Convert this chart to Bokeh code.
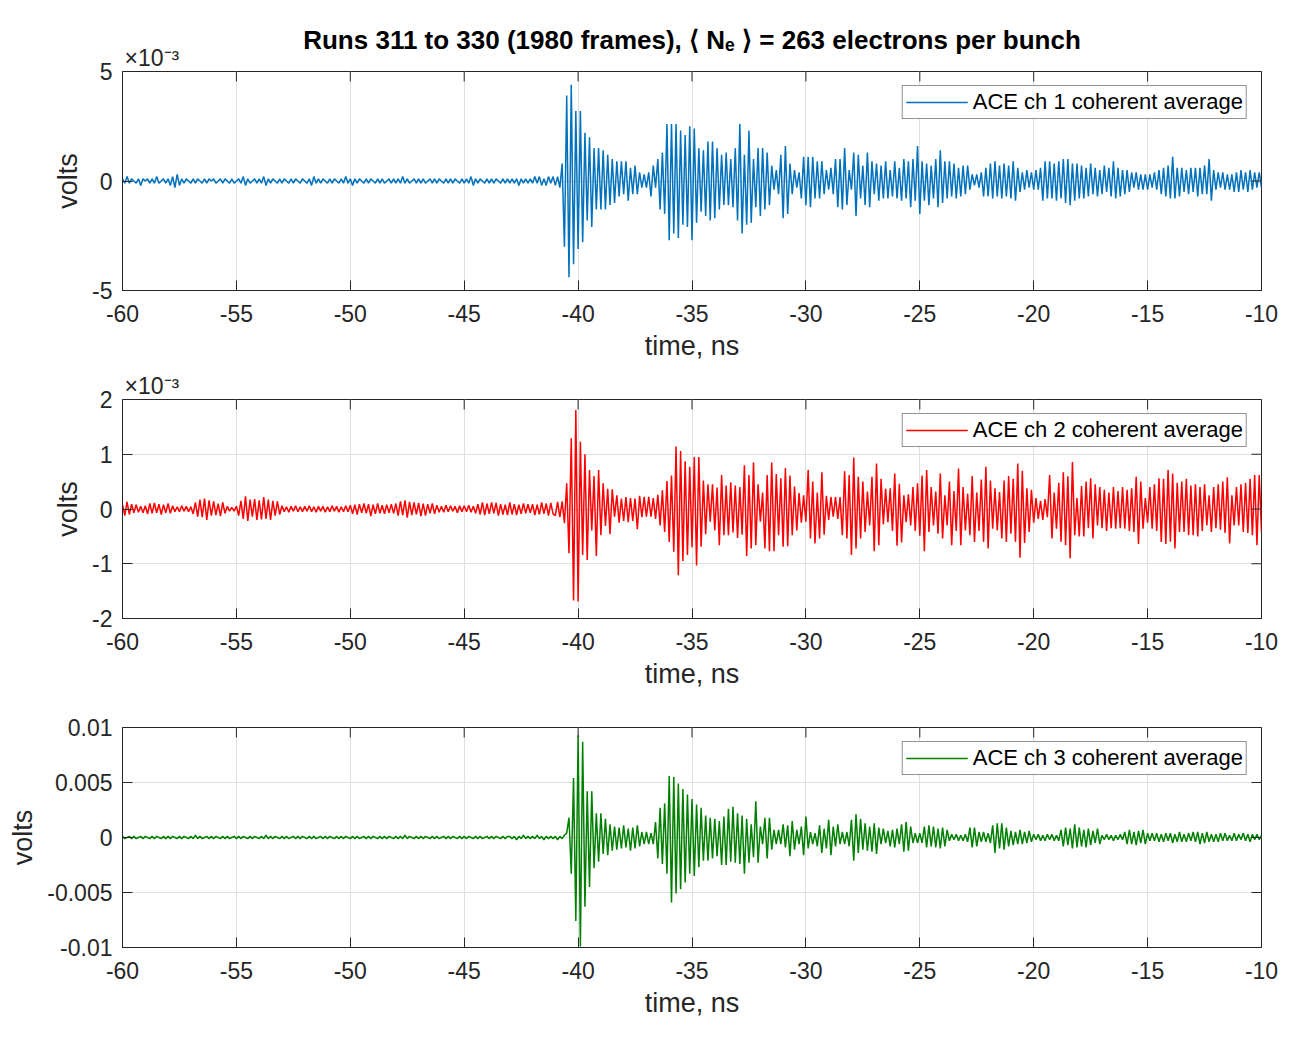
import numpy as np
from bokeh.plotting import figure
from bokeh.models import Range1d, FixedTicker, Title
from bokeh.layouts import column
from bokeh.embed import file_html
from bokeh.resources import INLINE

# ---------------- data ----------------
t_start = -60.0      # ns, first sample
t_step = 0.1         # ns, sample spacing

x_ticks = [-60, -55, -50, -45, -40, -35, -30, -25, -20, -15, -10]
x_tick_labels = ["-60", "-55", "-50", "-45", "-40", "-35", "-30", "-25", "-20", "-15", "-10"]

y1_ticks = [-5, 0, 5]
y1_tick_labels = ["-5", "0", "5"]
y2_ticks = [-2, -1, 0, 1, 2]
y2_tick_labels = ["-2", "-1", "0", "1", "2"]
y3_ticks = [-0.01, -0.005, 0, 0.005, 0.01]
y3_tick_labels = ["-0.01", "-0.005", "0", "0.005", "0.01"]

# ACE ch 1, units of 1e-4 V, one row per ns (from -60 ns)
ch1 = [
    1, -1, 2, -1, 1, 0, -1, 1, -2, 1,
    0, 1, -1, 1, -1, 2, -1, 0, 1, -1,
    1, -2, 2, -3, 3, -2, 1, -1, 1, 0,
    -1, 1, -1, 1, 0, -1, 1, -1, 1, 0,
    1, -1, 0, 1, -1, 1, 0, -1, 1, -1,
    0, 1, -1, 2, -2, 1, -1, 0, 1, -1,
    1, -1, 2, -2, 1, -1, 1, 0, -1, 1,
    -1, 1, 0, -1, 1, -1, 1, 0, -1, 1,
    0, -1, 1, -2, 2, -1, 1, -1, 1, 0,
    -1, 1, -1, 1, 0, -1, 1, -1, 2, -1,
    1, -2, 1, -1, 1, 0, -1, 1, -1, 1,
    0, -1, 1, -1, 1, -1, 0, 1, -1, 1,
    -1, 1, -1, 2, -1, 1, -1, 0, 1, -1,
    1, -1, 1, -1, 0, 1, -1, 1, -1, 1,
    0, -1, 1, -1, 1, -1, 1, 0, -1, 1,
    -1, 1, -1, 2, -2, 1, -1, 1, 0, -1,
    1, -1, 1, -1, 1, 0, -1, 1, -1, 1,
    -1, 1, -1, 1, -2, 1, -1, 1, -1, 1,
    -1, 2, -1, 2, -2, 1, -2, 2, -1, 2,
    -2, 2, -3, 8, -30, 39, -44, 44, -38, 32,
    -31, 32, -28, 22, -18, 20, -21, 15, -13, 15,
    -13, 14, -13, 12, -11, 10, -10, 9, -7, 9,
    -6, 9, -9, 6, -6, 7, -6, 4, -3, 3,
    -3, 4, -7, 7, -3, 10, -13, 13, -15, 26,
    -27, 26, -24, 26, -26, 23, -20, 21, -21, 25,
    -27, 24, -19, 15, -14, 14, -16, 18, -18, 18,
    -17, 15, -13, 12, -11, 13, -11, 10, -12, 15,
    -18, 26, -24, 12, -20, 23, -19, 10, -12, 15,
    -16, 15, -13, 13, -11, 7, -4, 5, -6, 12,
    -17, 16, -15, 8, -6, 5, -3, 4, -8, 11,
    -11, 11, -12, 11, -8, 9, -8, 9, -6, 5,
    -4, 6, -6, 10, -12, 10, -13, 15, -11, 5,
    -4, 13, -16, 12, -8, 7, -11, 13, -12, 9,
    -6, 8, -9, 7, -8, 9, -8, 5, -7, 9,
    -8, 6, -9, 10, -8, 9, -12, 10, -9, 16,
    -15, 9, -9, 8, -11, 7, -8, 10, -12, 14,
    -10, 9, -8, 9, -7, 8, -8, 6, -7, 7,
    -6, 7, -4, 3, -2, 3, -3, 4, -7, 6,
    -7, 8, -8, 9, -7, 7, -8, 8, -7, 7,
    -8, 9, -9, 6, -5, 4, -4, 5, -3, 4,
    -4, 5, -4, 6, -9, 9, -8, 9, -8, 8,
    -9, 9, -8, 10, -10, 10, -11, 8, -9, 8,
    -8, 7, -8, 6, -7, 8, -6, 6, -7, 5,
    -6, 7, -5, 6, -7, 9, -8, 6, -7, 5,
    -6, 5, -5, 4, -3, 4, -4, 3, -4, 3,
    -4, 3, -3, 4, -4, 5, -6, 6, -7, 7,
    -8, 11, -8, 6, -7, 6, -5, 5, -6, 6,
    -5, 6, -7, 6, -6, 7, -6, 10, -9, 5,
    -4, 4, -3, 4, -4, 3, -4, 3, -5, 4,
    -5, 5, -4, 4, -5, 5, -4, 4, -3, 4,
    -3,
]

# ACE ch 2, units of 1e-5 V
ch2 = [
    8, -12, 13, -10, 9, -7, 8, -6, 5, -7,
    6, -9, 10, -8, 11, -7, 9, -10, 8, -7,
    10, -8, 6, -5, 4, -5, 6, -4, 5, -5,
    4, -9, 12, -14, 17, -15, 19, -20, 16, -12,
    14, -11, 10, -13, 12, -8, 5, -4, 3, -4,
    5, -12, 15, -18, 23, -22, 17, -14, 18, -20,
    16, -19, 22, -18, 17, -20, 15, -12, 14, -10,
    6, -5, 4, -6, 5, -4, 6, -5, 4, -5,
    5, -4, 6, -5, 4, -6, 5, -4, 5, -6,
    4, -5, 6, -4, 5, -6, 4, -5, 6, -5,
    7, -9, 8, -10, 9, -7, 10, -8, 9, -13,
    8, -9, 10, -8, 7, -9, 8, -7, 9, -8,
    10, -12, 14, -11, 16, -16, 13, -11, 12, -10,
    11, -13, 10, -12, 9, -8, 10, -9, 7, -6,
    5, -6, 7, -5, 6, -4, 5, -7, 6, -5,
    6, -5, 7, -6, 5, -8, 9, -10, 12, -11,
    10, -9, 12, -8, 11, -12, 9, -10, 8, -11,
    12, -10, 9, -11, 8, -9, 10, -8, 9, -7,
    9, -11, 8, -10, 12, -9, 10, -12, 11, -9,
    -12, 13, -15, 14, -26, 47, -81, 129, -167, 181,
    -169, 123, -84, 100, -93, 71, -39, 60, -86, 71,
    -48, 47, -31, 37, -46, 36, -14, 25, -25, 19,
    -22, 22, -24, 20, -22, 19, -37, 24, -15, 22,
    -14, 22, -14, 20, -18, 26, -30, 34, -42, 51,
    -60, 61, -78, 114, -121, 106, -95, 87, -84, 77,
    -70, 95, -103, 95, -69, 52, -46, 45, -23, 45,
    -39, 39, -66, 62, -48, 43, -48, 49, -43, 43,
    -53, 40, -47, 80, -86, 62, -72, 85, -66, 45,
    -23, 30, -72, 62, -77, 85, -77, 64, -48, 56,
    -69, 75, -68, 61, -48, 41, -39, 29, -25, 25,
    -23, 71, -54, 50, -63, 30, -54, 67, -47, 24,
    -20, 22, -14, 22, -18, 22, -48, 69, -54, 62,
    -84, 94, -72, 59, -54, 50, -42, 32, -30, 59,
    -77, 83, -66, 55, -28, 37, -24, 38, -40, 65,
    -67, 46, -61, 25, -24, 27, -30, 40, -40, 47,
    -49, 61, -77, 71, -42, 40, -30, 32, -45, 65,
    -54, 25, -30, 50, -66, 33, -40, 74, -66, 40,
    -39, 28, -48, 60, -60, 30, -40, 54, -60, 77,
    -72, 52, -36, 38, -39, 31, -54, 52, -60, 60,
    -45, 55, -60, 83, -89, 70, -62, 38, -42, 35,
    -25, 20, -18, 15, -20, 18, -15, 62, -54, 30,
    -36, 48, -60, 67, -66, 60, -90, 86, -48, 20,
    -50, 42, -50, 50, -35, 56, -54, 45, -30, 40,
    -35, 35, -40, 30, -35, 40, -36, 33, -35, 40,
    -36, 35, -40, 38, -42, 59, -64, 50, -36, 20,
    -25, 40, -36, 45, -40, 56, -60, 55, -64, 71,
    -60, 65, -72, 48, -42, 50, -42, 55, -48, 43,
    -48, 45, -50, 40, -40, 45, -30, 25, -42, 40,
    -35, 45, -38, 50, -44, 58, -63, 25, -30, 40,
    -30, 45, -42, 48, -44, 55, -48, 62, -66, 62,
    -42,
]

# ACE ch 3, units of 1e-4 V
ch3 = [
    1, -1, 0, 1, -1, 1, -1, 0, 1, -1,
    1, 0, -1, 1, -1, 1, 0, -1, 1, -1,
    1, -1, 1, 0, -1, 1, -1, 1, 0, -1,
    1, -1, 2, -1, 1, -1, 0, 1, -1, 1,
    -1, 1, 0, -1, 1, -1, 1, -1, 0, 1,
    -1, 1, -1, 1, 0, -1, 1, -1, 1, 0,
    -1, 1, -1, 2, -1, 1, -1, 1, 0, -1,
    1, -1, 1, -1, 0, 1, -1, 1, -1, 1,
    0, -1, 1, -1, 1, -1, 0, 1, -1, 1,
    -1, 1, 0, -1, 1, -1, 1, -1, 1, 0,
    -1, 1, -1, 1, -1, 0, 1, -1, 1, -1,
    1, 0, -1, 1, -1, 1, -1, 1, 0, -1,
    1, -1, 1, -1, 2, -1, 1, 0, -1, 1,
    -1, 1, -1, 1, 0, -1, 1, -1, 1, -1,
    0, 1, -1, 1, -1, 1, 0, -1, 1, -1,
    1, -1, 1, 0, -1, 1, -1, 1, -1, 0,
    1, -1, 1, -1, 1, 0, -1, 1, -1, 1,
    1, -1, 1, -2, 1, -1, 2, -1, 1, -1,
    1, -1, 2, -1, 1, -2, 1, -1, 1, -1,
    1, -2, 1, -1, 2, 4, 18, -33, 54, -76,
    93, -99, 87, -63, 42, -45, 42, -28, 22, -22,
    22, -15, 17, -16, 12, -12, 10, -11, 9, -10,
    11, -9, 8, -12, 9, -10, 11, -8, 5, -6,
    5, -6, 4, -6, 14, -19, 27, -24, 31, -33,
    56, -59, 55, -51, 49, -47, 44, -41, 39, -33,
    35, -35, 30, -27, 27, -21, 20, -21, 18, -19,
    17, -17, 15, -25, 19, -25, 26, -22, 28, -23,
    22, -24, 20, -33, 17, -23, 12, -18, 33, -23,
    10, -6, 18, -19, 18, -11, 7, -6, 7, -6,
    12, -9, 11, -17, 15, -11, 7, -6, 10, -16,
    19, -10, 5, -6, 4, -8, 11, -14, 8, -10,
    16, -16, 10, -8, 12, -6, 5, -6, 5, -8,
    16, -21, 21, -14, 17, -11, 13, -12, 10, -13,
    13, -15, 9, -6, 8, -5, 6, -8, 7, -9,
    8, -6, 12, -13, 14, -12, 10, -5, 4, -5,
    4, -5, 10, -9, 11, -8, 10, -9, 8, -10,
    9, -8, 7, -3, 3, -2, 3, -3, 2, -3,
    3, -4, 9, -9, 9, -8, 5, -4, 5, -4,
    4, -5, 11, -14, 13, -10, 13, -11, 9, -8,
    6, -7, 5, -6, 7, -6, 5, -5, 6, -4,
    3, -2, 3, -3, 2, -3, 3, -2, 3, -3,
    2, -3, 7, -8, 9, -7, 8, -10, 12, -9,
    9, -8, 7, -9, 8, -7, 6, -5, 8, -6,
    2, -2, 3, -2, 2, -3, 2, -2, 3, -2,
    5, -6, 7, -6, 5, -7, 6, -5, 7, -6,
    4, -3, 4, -3, 4, -4, 3, -4, 4, -3,
    4, -5, 3, -4, 5, -4, 3, -4, 4, -3,
    5, -4, 5, -6, 4, -5, 5, -4, 3, -4,
    3, -4, 4, -3, 4, -3, 2, -3, 4, -3,
    3, -2, 4, -3, 3, -4, 3, -2, 3, -2,
    2,
]

legend_labels = ["ACE ch 1 coherent average", "ACE ch 2 coherent average", "ACE ch 3 coherent average"]
title_text = "Runs 311 to 330 (1980 frames), \u27e8 N\u2091 \u27e9 = 263 electrons per bunch"
exponent_text = "\u00d710\u207b\u00b3"

# ---------------- styling ----------------
FONT = "Liberation Sans"
AX = "#262626"
GRID = "#dfdfdf"
LEFT, RIGHT = 122, 29
FW = 1139
TICK_PX = 10


def time_axis(values):
    return np.round(t_start + t_step * np.arange(len(values)), 3)


def make_panel(t, y, color, label, yr, yticks, ylabels, top, bottom, fh):
    x0, x1 = -60, -10
    p = figure(x_range=Range1d(x0, x1), y_range=Range1d(*yr),
               frame_width=FW, frame_height=fh,
               min_border_left=LEFT, min_border_right=RIGHT,
               min_border_top=top, min_border_bottom=bottom,
               output_backend="svg", toolbar_location=None,
               background_fill_color="white", border_fill_color="white")
    p.line(t, y, line_color=color, line_width=1.5, legend_label=label)

    # mirrored tick marks on the top and right edges (MATLAB box style)
    ty = TICK_PX * (yr[1] - yr[0]) / fh
    tx = TICK_PX * (x1 - x0) / FW
    p.segment(x0=x_ticks, y0=[yr[1]] * len(x_ticks), x1=x_ticks, y1=[yr[1] - ty] * len(x_ticks),
              line_color=AX, line_width=1)
    p.segment(x0=[x1] * len(yticks), y0=yticks, x1=[x1 - tx] * len(yticks), y1=yticks,
              line_color=AX, line_width=1)

    p.xaxis.ticker = FixedTicker(ticks=x_ticks)
    p.xaxis.major_label_overrides = {v: s for v, s in zip(x_ticks, x_tick_labels)}
    p.yaxis.ticker = FixedTicker(ticks=yticks)
    p.yaxis.major_label_overrides = {v: s for v, s in zip(yticks, ylabels)}
    p.xaxis.axis_label = "time, ns"
    p.yaxis.axis_label = "volts"

    for ax in (p.xaxis[0], p.yaxis[0]):
        ax.axis_line_color = AX
        ax.major_tick_line_color = AX
        ax.major_tick_in = TICK_PX
        ax.major_tick_out = 0
        ax.minor_tick_line_color = None
        ax.major_label_text_font = FONT
        ax.major_label_text_font_size = "23px"
        ax.major_label_text_color = AX
        ax.axis_label_text_font = FONT
        ax.axis_label_text_font_size = "27px"
        ax.axis_label_text_font_style = "normal"
        ax.axis_label_text_color = AX
        ax.axis_label_standoff = 6
    p.xaxis.major_label_standoff = 14
    p.yaxis.major_label_standoff = 10

    p.xgrid.ticker = FixedTicker(ticks=x_ticks)
    p.ygrid.ticker = FixedTicker(ticks=yticks)
    p.grid.grid_line_color = GRID
    p.grid.grid_line_width = 1
    p.outline_line_color = AX

    lg = p.legend[0]
    lg.location = "top_right"
    lg.margin = 14
    lg.padding = 3
    lg.spacing = 0
    lg.border_line_color = AX
    lg.border_line_width = 1
    lg.label_text_font = FONT
    lg.label_text_font_size = "22px"
    lg.label_text_color = "black"
    lg.glyph_width = 62
    lg.glyph_height = 20
    lg.label_height = 20
    lg.label_standoff = 5
    return p


def add_exponent(p):
    p.add_layout(Title(text=exponent_text, align="left", offset=2, standoff=1,
                       text_font=FONT, text_font_size="23px", text_font_style="normal",
                       text_color=AX), "above")


y1 = np.array(ch1) * 1e-4 / 1e-3
y2 = np.array(ch2) * 1e-5 / 1e-3
y3 = np.array(ch3) * 1e-4

p1 = make_panel(time_axis(ch1), y1, "#0072BD", legend_labels[0], (-5, 5), y1_ticks, y1_tick_labels, 71, 78, 219)
p2 = make_panel(time_axis(ch2), y2, "#FF0000", legend_labels[1], (-2, 2), y2_ticks, y2_tick_labels, 31, 78, 219)
p3 = make_panel(time_axis(ch3), y3, "#008000", legend_labels[2], (-0.01, 0.01), y3_ticks, y3_tick_labels, 31, 78, 220)

add_exponent(p1)
add_exponent(p2)
p1.add_layout(Title(text=title_text, align="center", standoff=-24,
                    text_font=FONT, text_font_size="26px", text_font_style="bold",
                    text_color="black"), "above")

layout = column(p1, p2, p3, spacing=0)
open("out.html", "w").write(file_html(layout, INLINE))
